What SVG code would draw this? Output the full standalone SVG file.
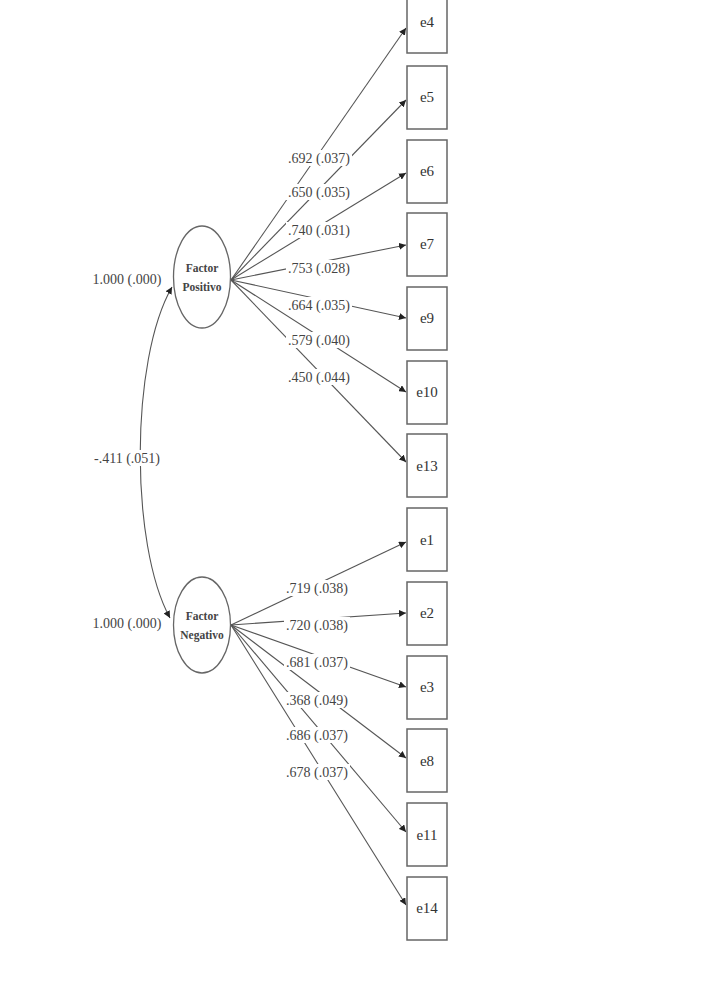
<svg xmlns="http://www.w3.org/2000/svg" width="708" height="981" viewBox="0 0 708 981">
<defs>
<marker id="ah" viewBox="0 0 10 10" refX="10" refY="5" markerWidth="7" markerHeight="7" orient="auto" markerUnits="userSpaceOnUse"><path d="M0,0 L10,5 L0,10 z" fill="#222"/></marker>
<marker id="ahs" viewBox="0 0 10 10" refX="0" refY="5" markerWidth="7" markerHeight="7" orient="auto" markerUnits="userSpaceOnUse"><path d="M10,0 L0,5 L10,10 z" fill="#222"/></marker>
<style>
.box{fill:#fff;stroke:#666;stroke-width:1.5}
.ell{fill:#fff;stroke:#666;stroke-width:1.3}
.ln{stroke:#555;stroke-width:1.1;fill:none}
.bt{font-family:"Liberation Serif",serif;font-size:15px;fill:#333;text-anchor:middle}
.lb{font-family:"Liberation Serif",serif;font-size:14px;fill:#444;text-anchor:middle}
.ft{font-family:"Liberation Serif",serif;font-size:11.5px;font-weight:bold;fill:#444;text-anchor:middle}
.bg{fill:#fff}
</style>
</defs>
<rect width="708" height="981" fill="#fff"/>
<g id="connectors">
<path class="ln" d="M172,287 C130,360 130,545 170,618" marker-start="url(#ahs)" marker-end="url(#ah)"/>
<line class="ln" x1="231" y1="280" x2="406" y2="28" marker-end="url(#ah)"/>
<line class="ln" x1="231" y1="280" x2="406" y2="100" marker-end="url(#ah)"/>
<line class="ln" x1="231" y1="280" x2="406" y2="173" marker-end="url(#ah)"/>
<line class="ln" x1="231" y1="280" x2="406" y2="245" marker-end="url(#ah)"/>
<line class="ln" x1="231" y1="280" x2="406" y2="318" marker-end="url(#ah)"/>
<line class="ln" x1="231" y1="280" x2="406" y2="392" marker-end="url(#ah)"/>
<line class="ln" x1="231" y1="280" x2="406" y2="462" marker-end="url(#ah)"/>
<line class="ln" x1="231" y1="625" x2="406" y2="542" marker-end="url(#ah)"/>
<line class="ln" x1="231" y1="625" x2="406" y2="613" marker-end="url(#ah)"/>
<line class="ln" x1="231" y1="625" x2="406" y2="687" marker-end="url(#ah)"/>
<line class="ln" x1="231" y1="625" x2="406" y2="758" marker-end="url(#ah)"/>
<line class="ln" x1="231" y1="625" x2="406" y2="832" marker-end="url(#ah)"/>
<line class="ln" x1="231" y1="625" x2="406" y2="905" marker-end="url(#ah)"/>
</g>
<g id="labels">
<rect class="bg" x="286" y="150" width="66" height="16"/><text class="lb" x="319" y="163">.692 (.037)</text>
<rect class="bg" x="286" y="184" width="66" height="16"/><text class="lb" x="319" y="197">.650 (.035)</text>
<rect class="bg" x="286" y="222" width="66" height="16"/><text class="lb" x="319" y="235">.740 (.031)</text>
<rect class="bg" x="286" y="260" width="66" height="16"/><text class="lb" x="319" y="273">.753 (.028)</text>
<rect class="bg" x="286" y="297" width="66" height="16"/><text class="lb" x="319" y="310">.664 (.035)</text>
<rect class="bg" x="286" y="332" width="66" height="16"/><text class="lb" x="319" y="345">.579 (.040)</text>
<rect class="bg" x="286" y="369" width="66" height="16"/><text class="lb" x="319" y="382">.450 (.044)</text>
<rect class="bg" x="284" y="580" width="66" height="16"/><text class="lb" x="317" y="593">.719 (.038)</text>
<rect class="bg" x="284" y="617" width="66" height="16"/><text class="lb" x="317" y="630">.720 (.038)</text>
<rect class="bg" x="284" y="654" width="66" height="16"/><text class="lb" x="317" y="667">.681 (.037)</text>
<rect class="bg" x="284" y="692" width="66" height="16"/><text class="lb" x="317" y="705">.368 (.049)</text>
<rect class="bg" x="284" y="727" width="66" height="16"/><text class="lb" x="317" y="740">.686 (.037)</text>
<rect class="bg" x="284" y="764" width="66" height="16"/><text class="lb" x="317" y="777">.678 (.037)</text>
<text class="lb" x="127" y="284">1.000 (.000)</text>
<rect class="bg" x="94" y="450" width="66" height="16"/><text class="lb" x="127" y="463">-.411 (.051)</text>
<text class="lb" x="127" y="628">1.000 (.000)</text>
</g>
<g id="factor-positivo"><ellipse class="ell" cx="202" cy="277" rx="28.5" ry="51"/><text class="ft" x="202" y="272">Factor</text><text class="ft" x="202" y="291">Positivo</text></g>
<g id="factor-negativo"><ellipse class="ell" cx="202" cy="625" rx="28.5" ry="48"/><text class="ft" x="202" y="620">Factor</text><text class="ft" x="202" y="639">Negativo</text></g>
<g id="e4"><rect class="box" x="407" y="-10" width="40" height="63"/><text class="bt" x="427" y="27">e4</text></g>
<g id="e5"><rect class="box" x="407" y="66" width="40" height="63"/><text class="bt" x="427" y="102">e5</text></g>
<g id="e6"><rect class="box" x="407" y="140" width="40" height="63"/><text class="bt" x="427" y="176">e6</text></g>
<g id="e7"><rect class="box" x="407" y="213" width="40" height="63"/><text class="bt" x="427" y="249">e7</text></g>
<g id="e9"><rect class="box" x="407" y="287" width="40" height="63"/><text class="bt" x="427" y="323">e9</text></g>
<g id="e10"><rect class="box" x="407" y="361" width="40" height="63"/><text class="bt" x="427" y="397">e10</text></g>
<g id="e13"><rect class="box" x="407" y="434" width="40" height="63"/><text class="bt" x="427" y="471">e13</text></g>
<g id="e1"><rect class="box" x="407" y="508" width="40" height="63"/><text class="bt" x="427" y="545">e1</text></g>
<g id="e2"><rect class="box" x="407" y="582" width="40" height="63"/><text class="bt" x="427" y="618">e2</text></g>
<g id="e3"><rect class="box" x="407" y="656" width="40" height="63"/><text class="bt" x="427" y="692">e3</text></g>
<g id="e8"><rect class="box" x="407" y="729" width="40" height="63"/><text class="bt" x="427" y="766">e8</text></g>
<g id="e11"><rect class="box" x="407" y="803" width="40" height="63"/><text class="bt" x="427" y="840">e11</text></g>
<g id="e14"><rect class="box" x="407" y="877" width="40" height="63"/><text class="bt" x="427" y="913">e14</text></g>
</svg>
